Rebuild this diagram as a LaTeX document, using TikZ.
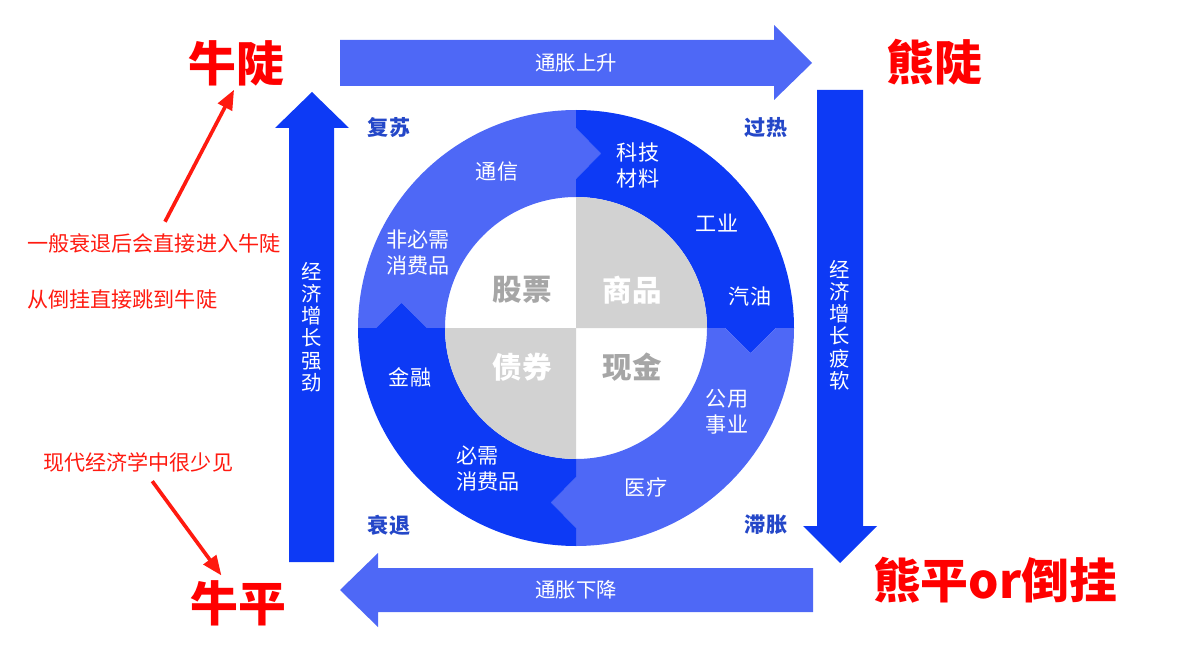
\documentclass[tikz,border=0pt]{standalone}
\usepackage{fontspec}
\usepackage{tikz}
\usetikzlibrary{arrows.meta}
\newfontfamily\cjk{Noto Sans CJK SC}
\definecolor{lightblue}{HTML}{4E68F6}
\definecolor{darkblue}{HTML}{0D3AF5}
\definecolor{cornerblue}{HTML}{2447C8}
\definecolor{innergray}{HTML}{D2D2D2}
\definecolor{labelgray}{HTML}{A6A6A6}
\definecolor{notered}{HTML}{FF1A10}

\begin{document}
\begin{tikzpicture}[x=0.025cm,y=0.025cm,
    ring/.style={text=white,font=\cjk\fontsize{15}{18.5}\selectfont,align=center,inner sep=0},
    corner/.style={text=cornerblue,font=\cjk\bfseries\fontsize{15}{18}\selectfont,inner sep=0},
    asset/.style={font=\cjk\bfseries\fontsize{21}{24}\selectfont,inner sep=0},
    flow/.style={text=white,font=\cjk\fontsize{14.5}{15.8}\selectfont,align=center,inner sep=0},
    market/.style={text=red,font=\cjk\bfseries\fontsize{34}{38}\selectfont,inner sep=0},
    note/.style={text=notered,font=\cjk\fontsize{15}{18}\selectfont,inner sep=0},
    redarrow/.style={draw=notered,line width=2.6pt,-{Triangle[length=14pt,width=11pt]}}]
  \useasboundingbox (0,0) rectangle (1191,-656);
  \def\Ro{218}\def\Ri{131}\def\Rm{174.5}\def\Rd{25}\def\Rh{25.5}

  % ring
  \begin{scope}[shift={(576,-328)}]
    \fill[lightblue] (0,\Ro) -- (0,\Rm+\Rh) -- (\Rd,\Rm) -- (0,\Rm-\Rh) -- (0,\Ri)
      arc[start angle=90,end angle=180,radius=\Ri] -- (-\Rm+\Rh,0) -- (-\Rm,\Rd) -- (-\Rm-\Rh,0) -- (-\Ro,0)
      arc[start angle=180,end angle=90,radius=\Ro] -- cycle;
    \fill[darkblue] (0,\Ro) -- (0,\Rm+\Rh) -- (\Rd,\Rm) -- (0,\Rm-\Rh) -- (0,\Ri)
      arc[start angle=90,end angle=0,radius=\Ri] -- (\Rm-\Rh,0) -- (\Rm,-\Rd) -- (\Rm+\Rh,0) -- (\Ro,0)
      arc[start angle=0,end angle=90,radius=\Ro] -- cycle;
    \fill[lightblue] (\Ro,0) -- (\Rm+\Rh,0) -- (\Rm,-\Rd) -- (\Rm-\Rh,0) -- (\Ri,0)
      arc[start angle=0,end angle=-90,radius=\Ri] -- (0,-\Rm+\Rh) -- (-\Rd,-\Rm) -- (0,-\Rm-\Rh) -- (0,-\Ro)
      arc[start angle=-90,end angle=0,radius=\Ro] -- cycle;
    \fill[darkblue] (0,-\Ro) -- (0,-\Rm-\Rh) -- (-\Rd,-\Rm) -- (0,-\Rm+\Rh) -- (0,-\Ri)
      arc[start angle=-90,end angle=-180,radius=\Ri] -- (-\Rm+\Rh,0) -- (-\Rm,\Rd) -- (-\Rm-\Rh,0) -- (-\Ro,0)
      arc[start angle=180,end angle=270,radius=\Ro] -- cycle;
    \fill[innergray] (0,0) -- (0,\Ri) arc[start angle=90,end angle=0,radius=\Ri] -- cycle;
    \fill[innergray] (0,0) -- (0,-\Ri) arc[start angle=270,end angle=180,radius=\Ri] -- cycle;
  \end{scope}

  \node[asset,text=labelgray] (stocks) at (522,-290) {股票};
  \node[asset,text=white] (goods) at (632,-290) {商品};
  \node[asset,text=white] (bonds) at (522,-367) {债券};
  \node[asset,text=labelgray] (cash) at (632,-367) {现金};

  \node[ring] (telecom) at (497,-172) {通信};
  \node[ring] (tech) at (638,-165) {科技\\材料};
  \node[ring] (industry) at (717,-223) {工业};
  \node[ring] (oil) at (750,-297) {汽油};
  \node[ring] (luxury) at (418,-253) {非必需\\消费品};
  \node[ring] (finance) at (410,-377) {金融};
  \node[ring] (utility) at (727,-412) {公用\\事业};
  \node[ring,align=left] (staples) at (488,-469) {必需\\消费品};
  \node[ring] (health) at (646,-487) {医疗};

  \node[corner] (recovery) at (389,-128) {复苏};
  \node[corner] (overheat) at (766,-128) {过热};
  \node[corner] (recession) at (389,-525) {衰退};
  \node[corner] (stagflation) at (766,-525) {滞胀};

  % big arrows
  \fill[lightblue] (340,-40) -- (774,-40) -- (774,-25) -- (812,-63) -- (774,-100) -- (774,-86) -- (340,-86) -- cycle;
  \node[flow] (influp) at (576,-63) {通胀上升};
  \fill[darkblue] (817,-90) -- (863,-90) -- (863,-526) -- (877,-526) -- (840,-563) -- (803,-526) -- (817,-526) -- cycle;
  \node[flow] (weak) at (840,-325) {经\\济\\增\\长\\疲\\软};
  \fill[lightblue] (813,-568) -- (378,-568) -- (378,-553) -- (340,-590) -- (378,-627) -- (378,-612) -- (813,-612) -- cycle;
  \node[flow] (infldown) at (576,-590) {通胀下降};
  \fill[darkblue] (289,-562) -- (289,-128) -- (275,-128) -- (312,-92) -- (349,-128) -- (334,-128) -- (334,-562) -- cycle;
  \node[flow] (strong) at (312,-327) {经\\济\\增\\长\\强\\劲};

  % markets
  \node[market] (bullsteep) at (236,-63) {牛陡};
  \node[market] (bearsteep) at (934,-62) {熊陡};
  \node[market] (bullflat) at (238,-603) {牛平};
  \node[market] (bearflat) at (995,-580) {熊平or倒挂};

  \node[note,anchor=west] (note1) at (27,-243) {一般衰退后会直接进入牛陡};
  \node[note,anchor=west] (note2) at (27,-299) {从倒挂直接跳到牛陡};
  \node[note,anchor=west] (note3) at (43,-462) {现代经济学中很少见};
  \draw[redarrow,shorten <=9pt,shorten >=3pt] (note1) -- (bullsteep.south);
  \draw[redarrow,shorten <=8pt,shorten >=4pt] (note3) -- (bullflat.120);
\end{tikzpicture}
\end{document}
